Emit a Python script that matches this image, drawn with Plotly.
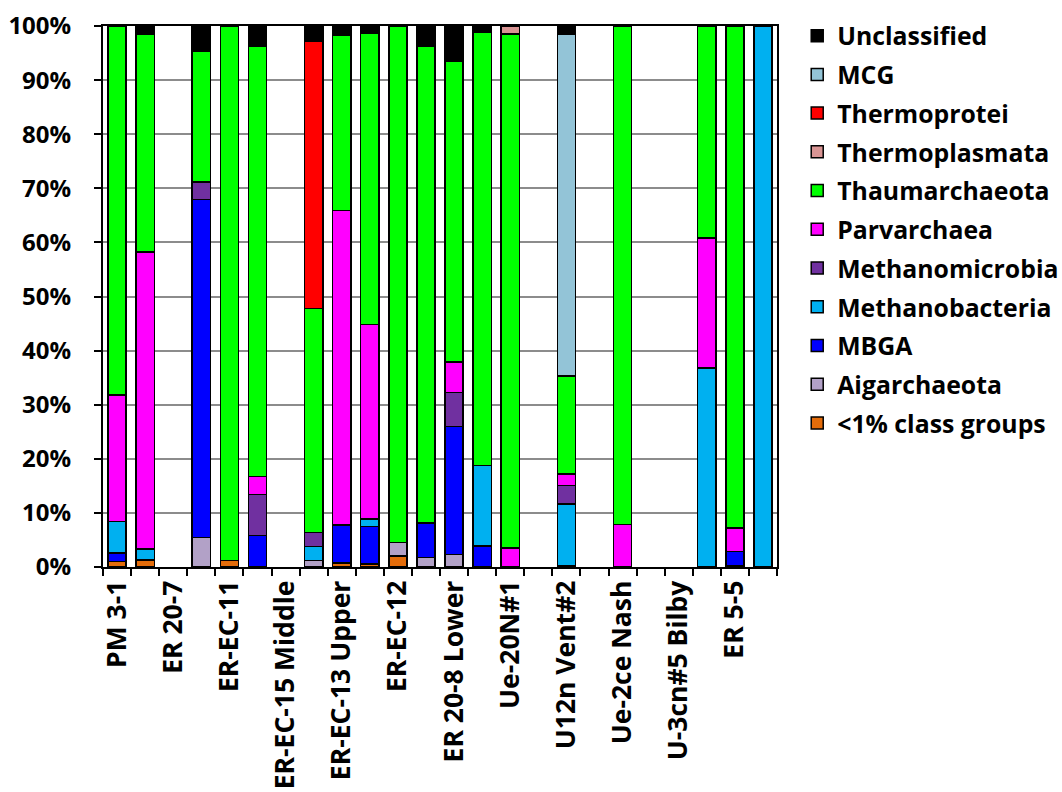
import plotly.graph_objects as go

# 24 sample positions; only every other one carries a printed label
categories = [
    "PM 3-1", None, "ER 20-7", None, "ER-EC-11", None, "ER-EC-15 Middle", None,
    "ER-EC-13 Upper", None, "ER-EC-12", None, "ER 20-8 Lower", None, "Ue-20N#1", None,
    "U12n Vent#2", None, "Ue-2ce Nash", None, "U-3cn#5 Bilby", None, "ER 5-5", None,
]

# series values (percent), bottom of stack first
lt1_class_groups = [1.0, 1.3, 0, 0, 1.2, 0, 0, 0, 0.7, 0.6, 2.0, 0, 0, 0, 0, 0, 0.3, 0, 0, 0, 0, 0, 0.3, 0]
aigarchaeota     = [0, 0, 0, 5.5, 0, 0, 0, 1.2, 0, 0, 2.5, 1.8, 2.3, 0, 0, 0, 0, 0, 0, 0, 0, 0, 0, 0]
mbga             = [1.6, 0, 0, 62.4, 0, 5.8, 0, 0, 7.1, 6.9, 0, 6.3, 23.7, 3.9, 0, 0, 0, 0, 0, 0, 0, 0, 2.6, 0]
methanobacteria  = [5.8, 2.0, 0, 0, 0, 0, 0, 2.6, 0, 1.4, 0, 0, 0, 14.9, 0, 0, 11.3, 0, 0, 0, 0, 36.8, 0, 100]
methanomicrobia  = [0, 0, 0, 3.3, 0, 7.6, 0, 2.6, 0, 0, 0, 0, 6.3, 0, 0, 0, 3.5, 0, 0, 0, 0, 0, 0, 0]
parvarchaea      = [23.4, 54.9, 0, 0, 0, 3.3, 0, 0, 58.1, 35.9, 0, 0, 5.6, 0, 3.5, 0, 2.1, 0, 7.9, 0, 0, 24.0, 4.3, 0]
thaumarchaeota   = [68.2, 40.3, 0, 24.1, 98.8, 79.5, 0, 41.4, 32.4, 53.9, 95.5, 88.1, 55.5, 80.0, 95.0, 0, 18.1, 0, 92.1, 0, 0, 39.2, 92.8, 0]
thermoplasmata   = [0, 0, 0, 0, 0, 0, 0, 0, 0, 0, 0, 0, 0, 0, 1.5, 0, 0, 0, 0, 0, 0, 0, 0, 0]
thermoprotei     = [0, 0, 0, 0, 0, 0, 0, 49.4, 0, 0, 0, 0, 0, 0, 0, 0, 0, 0, 0, 0, 0, 0, 0, 0]
mcg              = [0, 0, 0, 0, 0, 0, 0, 0, 0, 0, 0, 0, 0, 0, 0, 0, 63.2, 0, 0, 0, 0, 0, 0, 0]
unclassified     = [0, 1.5, 0, 4.7, 0, 3.8, 0, 2.8, 1.7, 1.3, 0, 3.8, 6.6, 1.2, 0, 0, 1.5, 0, 0, 0, 0, 0, 0, 0]

y_ticks = [0, 10, 20, 30, 40, 50, 60, 70, 80, 90, 100]
y_tick_labels = [f"{v}%" for v in y_ticks]

series = [
    ("<1% class groups", lt1_class_groups, "#E46C0A"),
    ("Aigarchaeota", aigarchaeota, "#B2A1C7"),
    ("MBGA", mbga, "#0000FF"),
    ("Methanobacteria", methanobacteria, "#00B0F0"),
    ("Methanomicrobia", methanomicrobia, "#7030A0"),
    ("Parvarchaea", parvarchaea, "#FF00FF"),
    ("Thaumarchaeota", thaumarchaeota, "#00FF00"),
    ("Thermoplasmata", thermoplasmata, "#D99594"),
    ("Thermoprotei", thermoprotei, "#FF0000"),
    ("MCG", mcg, "#93C4D7"),
    ("Unclassified", unclassified, "#000000"),
]

x = list(range(len(categories)))
tickvals = [i for i, c in enumerate(categories) if c is not None]
ticktext = [c for c in categories if c is not None]
boundaries = [i - 0.5 for i in range(len(categories) + 1)]

FONT = "Open Sans"

fig = go.Figure()
n = len(series)
for k, (name, vals, color) in enumerate(series):
    fig.add_trace(go.Bar(
        x=x, y=[v if v else None for v in vals], name=name, legendgroup=name,
        legendrank=n - k,
        marker=dict(color=color, line=dict(color="black", width=1.5)),
    ))

fig.update_layout(
    width=1062, height=792,
    barmode="stack", bargap=0.35,
    paper_bgcolor="white", plot_bgcolor="white",
    margin=dict(l=103, r=285, t=26, b=225, autoexpand=False),
    font=dict(family=FONT, size=24, color="black", weight="bold"),
    legend=dict(
        x=1.03, y=1.024, xanchor="left", yanchor="top",
        traceorder="grouped", tracegroupgap=3.5, maxheight=700,
        font=dict(family=FONT, size=24.8, color="black", weight="bold"),
        bgcolor="rgba(0,0,0,0)", itemclick=False,
    ),
    xaxis=dict(
        range=[-0.5, len(categories) - 0.5],
        tickmode="array", tickvals=tickvals, ticktext=ticktext,
        tickangle=-90, ticks="", ticklabelstandoff=1,
        showline=True, linecolor="black", linewidth=2, mirror=True,
        showgrid=False, zeroline=False,
        minor=dict(tickmode="array", tickvals=boundaries, ticks="outside",
                   ticklen=7, tickwidth=2, tickcolor="black", showgrid=False),
        tickfont=dict(family=FONT, size=26.5, color="black", weight="bold"),
    ),
    yaxis=dict(
        range=[0, 100], tickmode="array", tickvals=y_ticks, ticktext=y_tick_labels,
        ticks="outside", ticklen=7, tickwidth=2, tickcolor="black",
        showline=True, linecolor="black", linewidth=2, mirror=True,
        showgrid=True, gridcolor="#8C8C8C", gridwidth=1.5, zeroline=False,
        ticklabelstandoff=18,
        tickfont=dict(family=FONT, size=24, color="black", weight="bold"),
    ),
)

fig.write_html("out.html")
